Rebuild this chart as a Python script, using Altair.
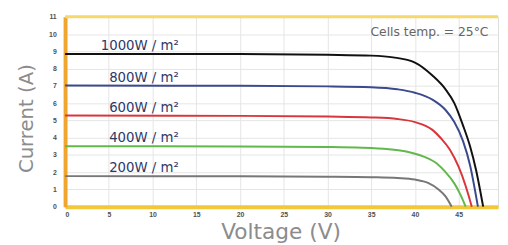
import altair as alt
import pandas as pd

# Irradiance series (labels) and their I-V curves
series = ["1000W / m²", "800W / m²", "600W / m²", "400W / m²", "200W / m²"]
colors = ["#111111", "#3B4A8E", "#D8363A", "#63B84C", "#777777"]

v_1000 = [0, 10, 20, 30, 35, 37.5, 40, 42, 43.5, 44.5, 45.5, 46.3, 47.0, 47.8]
i_1000 = [8.85, 8.85, 8.84, 8.8, 8.75, 8.65, 8.35, 7.6, 6.8, 6.0, 4.7, 3.5, 2.1, 0]

v_800 = [0, 20, 30, 35, 38, 40, 42, 43.5, 44.5, 45.5, 46.3, 47.2]
i_800 = [7.02, 7.0, 6.97, 6.92, 6.8, 6.6, 6.2, 5.6, 4.9, 3.8, 2.4, 0]

v_600 = [0, 20, 30, 35, 38, 40, 42, 43, 44, 45, 45.8, 46.5]
i_600 = [5.28, 5.26, 5.22, 5.17, 5.08, 4.9, 4.45, 3.95, 3.3, 2.3, 1.2, 0]

v_400 = [0, 20, 30, 34, 37, 39, 41, 42.5, 43.5, 44.5, 45.2, 45.8]
i_400 = [3.5, 3.49, 3.46, 3.42, 3.33, 3.2, 2.9, 2.5, 2.0, 1.35, 0.7, 0]

v_200 = [0, 20, 30, 35, 38, 40, 41.5, 42.7, 43.5, 44.2]
i_200 = [1.77, 1.76, 1.74, 1.71, 1.66, 1.57, 1.38, 1.0, 0.6, 0]

x_ticks = [0, 5, 10, 15, 20, 25, 30, 35, 40, 45]
y_ticks = [0, 1, 2, 3, 4, 5, 6, 7, 8, 9, 10, 11]
note = "Cells temp. = 25°C"

curves = [(v_1000, i_1000), (v_800, i_800), (v_600, i_600), (v_400, i_400), (v_200, i_200)]
rows = []
for s, (vs, cs) in zip(series, curves):
    for order, (v, c) in enumerate(zip(vs, cs)):
        rows.append({"series": s, "V": v, "I": c, "o": order})
df = pd.DataFrame(rows)
df_lab = pd.DataFrame({"series": series, "Isc": [c[1][0] for c in curves]})

xs = alt.Scale(domain=[0, 49.5], nice=False, zero=False)
ys = alt.Scale(domain=[0, 11], nice=False)
col = alt.Scale(domain=series, range=colors)

x_axis = alt.Axis(
    values=x_ticks, title="Voltage (V)", domainColor="#F2C73A", domainWidth=4,
    titleX=219, titleY=32, titleBaseline="alphabetic", titleFontSize=22,
    titleFont="DejaVu Sans", titleFontWeight="normal", titleColor="#8c8c8c",
    labelPadding=4, labelFontSize=7, labelColor="#505050", ticks=False,
    labelOverlap=False, labelFontWeight="bold",
    gridColor="#e4e4e4", gridWidth=1)
y_axis = alt.Axis(
    values=y_ticks, title="Current (A)", domainColor="#F0A52E", domainWidth=4,
    titleX=-33, titleY=103, titleBaseline="alphabetic", titleAngle=270,
    titleAlign="center", titleFontSize=20, titleFont="DejaVu Sans",
    titleFontWeight="normal", titleColor="#8c8c8c",
    labelPadding=9, labelFontSize=7, labelColor="#505050", ticks=False,
    labelOverlap=False, labelFontWeight="bold",
    gridColor="#e4e4e4", gridWidth=1)

lines = alt.Chart(df).mark_line(strokeWidth=2, interpolate="monotone").encode(
    x=alt.X("V:Q", scale=xs, axis=x_axis),
    y=alt.Y("I:Q", scale=ys, axis=y_axis),
    color=alt.Color("series:N", scale=col, legend=None),
    order="o:Q",
    detail="series:N",
)

labels = alt.Chart(df_lab).mark_text(
    align="right", baseline="alphabetic", dy=-4, fontSize=13.5,
    font="DejaVu Sans", color="#2C3868"
).encode(
    x=alt.datum(13.0, scale=xs, axis=x_axis),
    y=alt.Y("Isc:Q", scale=ys, axis=y_axis),
    text="series:N",
)

top_rule = alt.Chart(pd.DataFrame({"y": [11]})).mark_rule(
    color="#F6D86C", strokeWidth=3
).encode(y=alt.Y("y:Q", scale=ys, axis=y_axis),
         x=alt.datum(0, scale=xs, axis=x_axis), x2=alt.datum(49.5))

note_t = alt.Chart(pd.DataFrame({"t": [note]})).mark_text(
    align="right", baseline="alphabetic", fontSize=12.5, font="DejaVu Sans",
    color="#666666"
).encode(x=alt.datum(48.4, scale=xs, axis=x_axis),
         y=alt.datum(9.86, scale=ys, axis=y_axis), text="t:N")

chart = alt.layer(lines, labels, top_rule, note_t).properties(
    width=440, height=193,
    autosize=alt.AutoSizeParams(type="none"),
    padding={"left": 58, "top": 7, "right": 2, "bottom": 37},
).configure_view(stroke=None).configure(background="white").configure_axis(
    labelOverlap=False
)

chart.save("out.html", embed_options={"renderer": "svg", "actions": False})
